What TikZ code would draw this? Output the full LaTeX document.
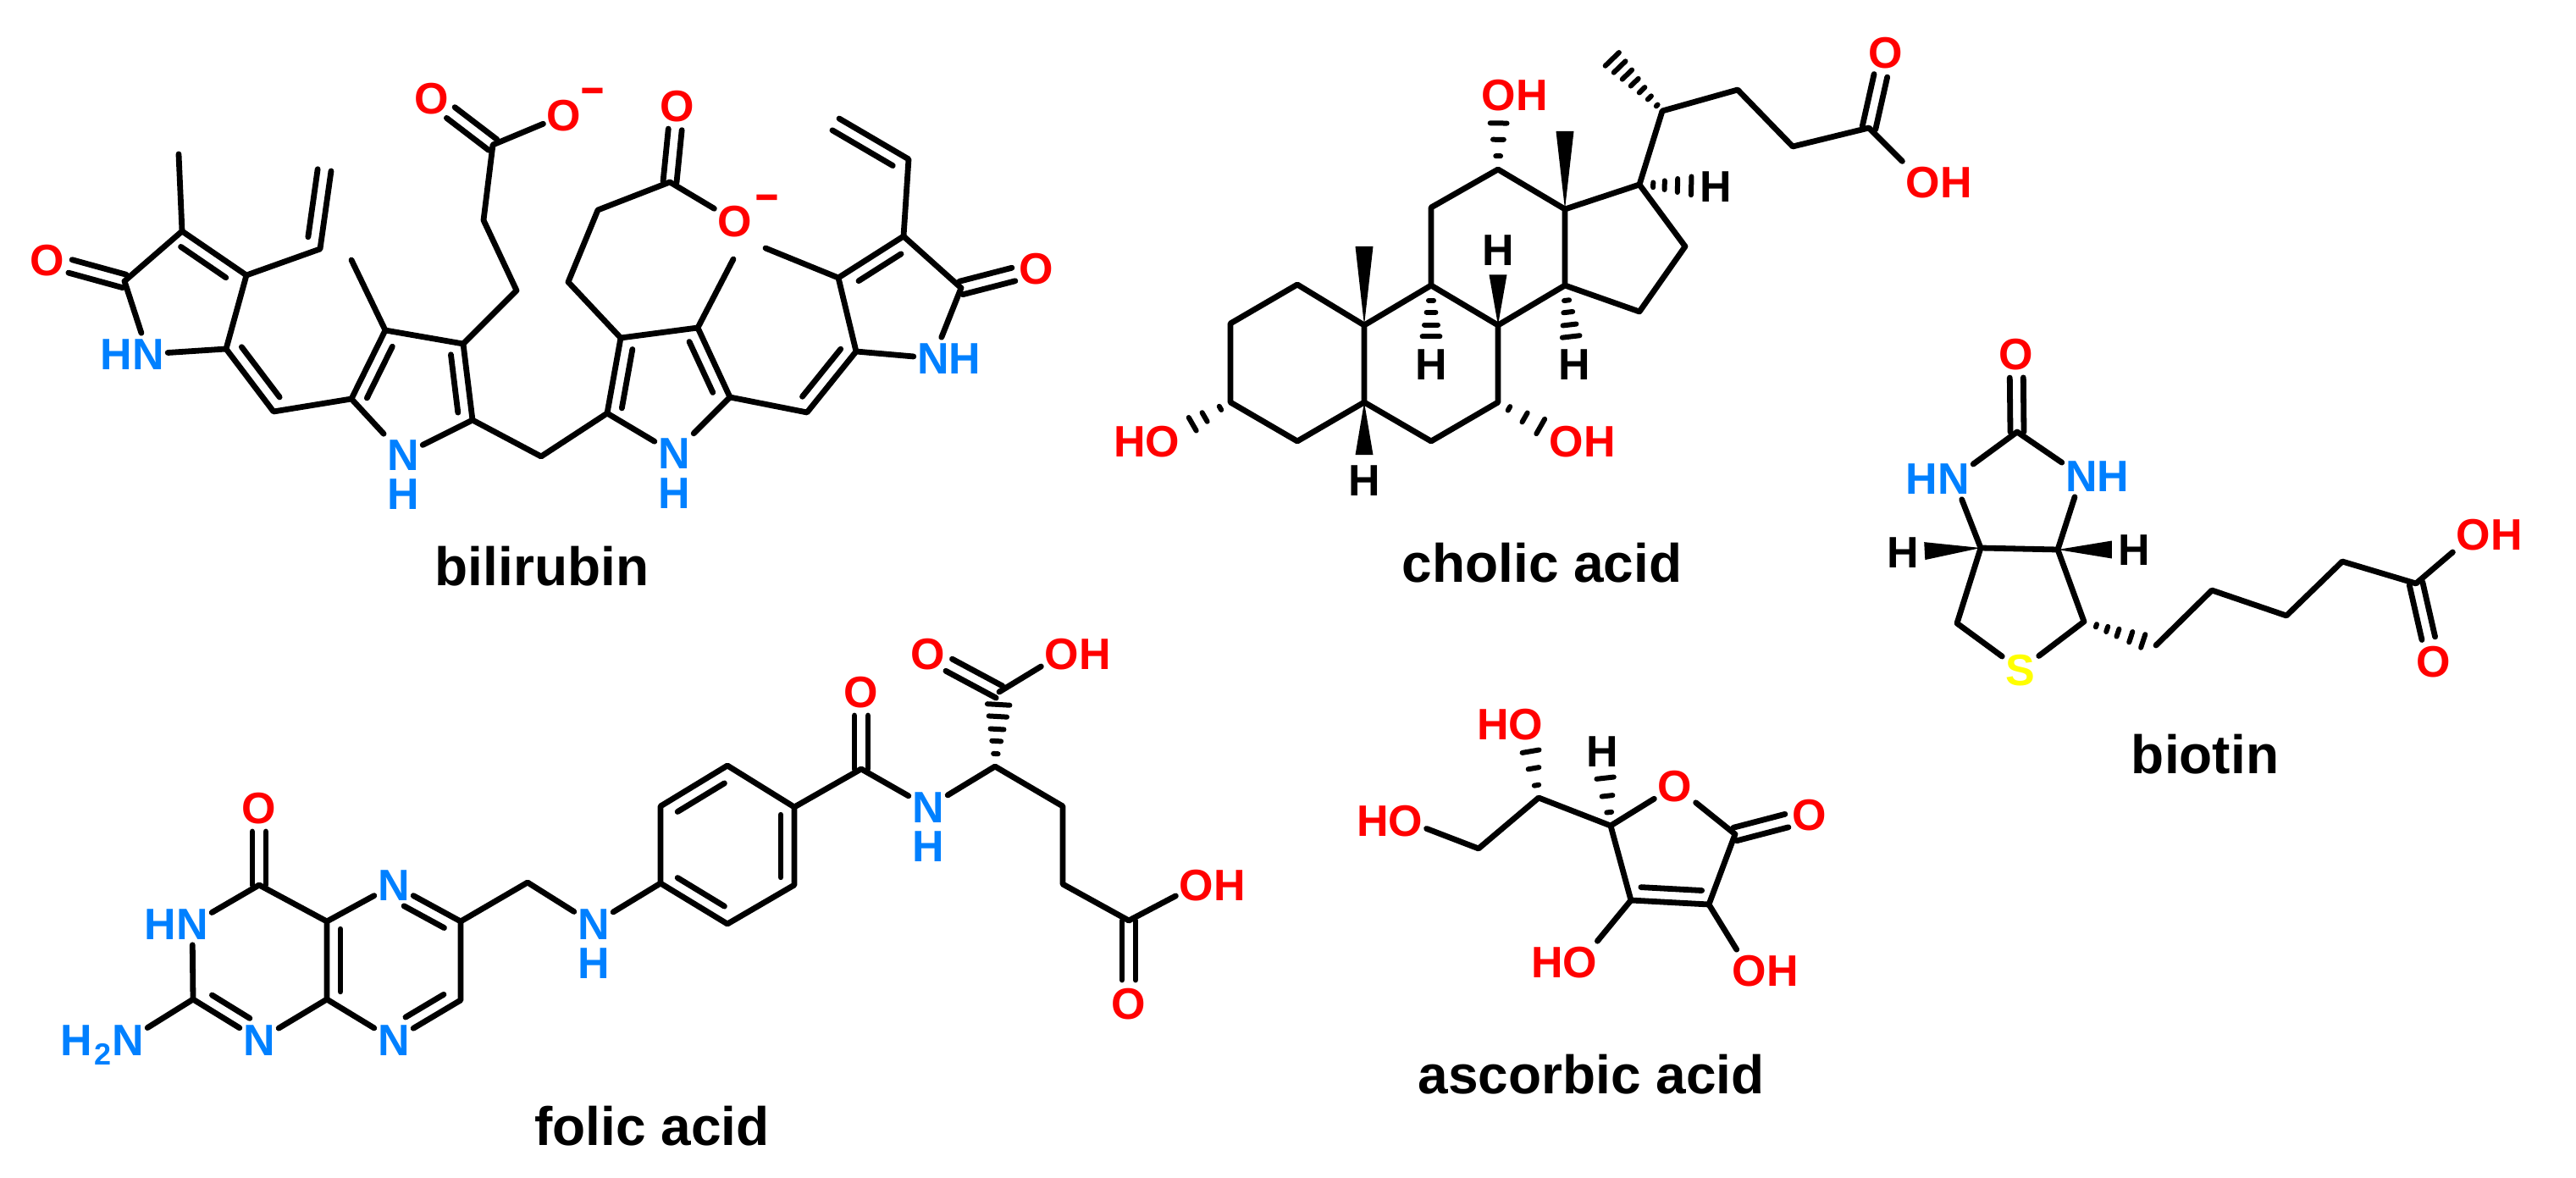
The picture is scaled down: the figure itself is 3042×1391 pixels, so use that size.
\documentclass[tikz,border=0pt]{standalone}
\usepackage{fontspec}
\setmainfont{Liberation Sans}
\usetikzlibrary{calc,positioning}
\definecolor{atomred}{RGB}{255,0,0}
\definecolor{atomblue}{RGB}{0,128,255}
\definecolor{atomyellow}{RGB}{255,255,0}
\tikzset{
  bond/.style={line width=3.4pt,line cap=round,line join=round},
  hashline/.style={line width=3pt,line cap=round},
  atom/.style={shape=rectangle,inner xsep=2pt,inner ysep=3pt,text height=18.4pt,text depth=0pt,font=\fontsize{26}{30}\selectfont\bfseries},
  oxy/.style={atom,text=atomred},
  nit/.style={atom,text=atomblue},
  sul/.style={atom,text=atomyellow},
  hyd/.style={atom,text=black},
  nhyd/.style={nit,inner ysep=0pt},
  charge/.style={anchor=base,inner sep=0pt,text=atomred,font=\fontsize{26}{30}\selectfont},
  molname/.style={anchor=base,inner sep=0pt,font=\fontsize{32}{36}\selectfont\bfseries}
}
\newcommand{\inbond}[4]{\draw[bond] ($(#1)!#3!(#2)!8pt!-90:(#2)$) -- ($(#1)!#4!(#2)!8pt!90:(#1)$);}
\newcommand{\twobond}[2]{\draw[bond,shorten >=14pt] ($(#1)!4pt!90:(#2)$) -- ($(#2)!4pt!-90:(#1)$);
  \draw[bond,shorten >=14pt] ($(#1)!4pt!-90:(#2)$) -- ($(#2)!4pt!90:(#1)$);}
\newcommand{\hashbond}[4][8]{\foreach \tp in {#4} \draw[hashline] ($(#2)!\tp!(#3)!\tp*#1pt!90:(#2)$) -- ($(#2)!\tp!(#3)!\tp*#1pt!-90:(#2)$);}
\newcommand{\wedgebond}[3][1]{\fill (#2) -- ($(#2)!#1!(#3)!5.25pt!90:(#2)$) -- ($(#2)!#1!(#3)!5.25pt!-90:(#2)$) -- cycle;}
\begin{document}
\begin{tikzpicture}[x=0.5pt,y=-0.5pt]
\useasboundingbox (0,0) rectangle (3042,1391);
% bilirubin
\coordinate (bi1) at (147,332); \coordinate (bi2) at (215,273); \coordinate (bi3) at (291,325); \coordinate (bi4) at (267,412); \coordinate (bi5) at (323,486);
\coordinate (biMe1) at (211,182); \coordinate (biV1) at (378,294); \coordinate (biV2) at (391,202);
\coordinate (bi6) at (415,471); \coordinate (bi7) at (455,390); \coordinate (bi8) at (547,406); \coordinate (bi9) at (558,496); \coordinate (biMe2) at (415,307);
\coordinate (bi10) at (610,343); \coordinate (bi11) at (571,260); \coordinate (bi12) at (582,171); \coordinate (bi13) at (639,539);
\coordinate (bi14) at (717,488); \coordinate (bi15) at (733,399); \coordinate (bi16) at (824,387); \coordinate (bi17) at (862,469); \coordinate (biMe3) at (866,306);
\coordinate (bi18) at (671,333); \coordinate (bi19) at (706,248); \coordinate (bi20) at (791,215);
\coordinate (bi21) at (953,487); \coordinate (bi22) at (1011,415); \coordinate (bi23) at (990,328); \coordinate (bi24) at (1067,279); \coordinate (bi25) at (1135,340);
\coordinate (biV3) at (1073,188); \coordinate (biV4) at (991,140); \coordinate (biMe4) at (904,293);
\node[oxy] (biO1) at (56,307) {O};
\node[nit] (biN1) at (175,418) {\llap{H}N};
\node[nit] (biN2) at (476,537) {N};
\node[nhyd] (biH2) at (476,583) {H};
\node[oxy] (biO2) at (510,116) {O};
\node[oxy] (biO3) at (666,136) {O};
\node[charge] (biC1) at (700,130) {\scalebox{1.9}[1.6]{-}};
\node[nit] (biN3) at (796,535) {N};
\node[nhyd] (biH3) at (796,582) {H};
\node[oxy] (biO4) at (800,125) {O};
\node[oxy] (biO5) at (868,261) {O};
\node[charge] (biC2) at (906,256) {\scalebox{1.9}[1.6]{-}};
\node[nit] (biN4) at (1102,423) {N\rlap{H}};
\node[oxy] (biO6) at (1224,317) {O};
\draw[bond] (biN1) -- (bi1) -- (bi2) -- (bi3) -- (bi4) -- (biN1);
\draw[bond] (biMe1) -- (bi2);
\draw[bond] (biV2) -- (biV1) -- (bi3);
\draw[bond] (bi4) -- (bi5) -- (bi6) -- (bi7) -- (bi8) -- (bi9) -- (biN2) -- (bi6);
\draw[bond] (biMe2) -- (bi7);
\draw[bond] (bi8) -- (bi10) -- (bi11) -- (bi12) -- (biO3);
\draw[bond] (bi9) -- (bi13) -- (bi14) -- (bi15) -- (bi16) -- (bi17) -- (biN3) -- (bi14);
\draw[bond] (biMe3) -- (bi16);
\draw[bond] (bi15) -- (bi18) -- (bi19) -- (bi20) -- (biO5);
\draw[bond] (bi17) -- (bi21) -- (bi22) -- (bi23) -- (bi24) -- (bi25) -- (biN4) -- (bi22);
\draw[bond] (biMe4) -- (bi23);
\draw[bond] (biV4) -- (biV3) -- (bi24);
\twobond{bi1}{biO1} \twobond{bi12}{biO2} \twobond{bi20}{biO4} \twobond{bi25}{biO6}
\inbond{bi2}{bi3}{.1}{.8} \inbond{bi5}{bi4}{.1}{.9} \inbond{biV2}{biV1}{0}{.87}
\inbond{bi6}{bi7}{.1}{.85} \inbond{bi8}{bi9}{.12}{.88} \inbond{bi14}{bi15}{.1}{.88} \inbond{bi16}{bi17}{.12}{.85}
\inbond{bi22}{bi21}{.1}{.88} \inbond{bi23}{bi24}{.2}{.85} \inbond{biV4}{biV3}{0}{.87}
\node[molname] (biName) at (640,691) {bilirubin};
% cholic acid
\coordinate (ch1) at (1532,336); \coordinate (ch2) at (1453,382); \coordinate (ch3) at (1453,475); \coordinate (ch4) at (1532,521); \coordinate (ch5) at (1611,475);
\coordinate (ch6) at (1690,521); \coordinate (ch7) at (1769,475); \coordinate (ch8) at (1769,384); \coordinate (ch9) at (1690,337); \coordinate (ch10) at (1611,384);
\coordinate (ch11) at (1690,245); \coordinate (ch12) at (1769,200); \coordinate (ch13) at (1848,247); \coordinate (ch14) at (1848,337);
\coordinate (ch15) at (1936,368); \coordinate (ch16) at (1990,291); \coordinate (ch17) at (1936,218);
\coordinate (ch20) at (1963,131); \coordinate (ch22) at (2052,106); \coordinate (ch23) at (2117,173); \coordinate (ch24) at (2207,151);
\coordinate (chMe1) at (1848,155); \coordinate (chMe2) at (1611,291); \coordinate (chMe3) at (1900,66);
\node[oxy] (chO1) at (1770,112) {O\rlap{H}};
\node[oxy] (chO2) at (1373,521) {\llap{H}O};
\node[oxy] (chO3) at (1850,521) {O\rlap{H}};
\node[oxy] (chO4) at (2227,62) {O};
\node[oxy] (chO5) at (2271,215) {O\rlap{H}};
\node[hyd] (chH5) at (1611,567) {H};
\node[hyd] (chH8) at (1769,295) {H};
\node[hyd] (chH9) at (1690,430) {H};
\node[hyd] (chH14) at (1859,430) {H};
\node[hyd] (chH17) at (2026,220) {H};
\draw[bond] (ch10) -- (ch1) -- (ch2) -- (ch3) -- (ch4) -- (ch5) -- (ch10) -- (ch9) -- (ch8) -- (ch7) -- (ch6) -- (ch5);
\draw[bond] (ch9) -- (ch11) -- (ch12) -- (ch13) -- (ch14) -- (ch8);
\draw[bond] (ch14) -- (ch15) -- (ch16) -- (ch17) -- (ch13);
\draw[bond] (ch17) -- (ch20) -- (ch22) -- (ch23) -- (ch24) -- (chO5);
\twobond{ch24}{chO4}
\wedgebond{ch13}{chMe1} \wedgebond{ch10}{chMe2} \wedgebond[.67]{ch8}{chH8} \wedgebond[.675]{ch5}{chH5}
\hashbond{ch12}{chO1}{.18,.40,.62} \hashbond{ch3}{chO2}{.15,.38,.56} \hashbond{ch7}{chO3}{.16,.39,.62}
\hashbond{ch9}{chH9}{.19,.34,.5,.65} \hashbond{ch14}{chH14}{.19,.34,.5,.65} \hashbond{ch17}{chH17}{.18,.33,.5,.68}
\hashbond[6]{ch20}{chMe3}{.1,.24,.38,.52,.66,.8,.94}
\node[molname] (chName) at (1821,687) {cholic acid};
% biotin
\coordinate (bt1) at (2382,510); \coordinate (bt2) at (2339,647); \coordinate (bt3) at (2430,649); \coordinate (bt4) at (2311,736); \coordinate (bt5) at (2461,734);
\coordinate (bt6) at (2546,762); \coordinate (bt7) at (2612,697); \coordinate (bt8) at (2700,727); \coordinate (bt9) at (2766,663); \coordinate (bt10) at (2853,689);
\node[oxy] (btO1) at (2381,418) {O};
\node[nit] (btN1) at (2307,565) {\llap{H}N};
\node[nit] (btN2) at (2458,562) {N\rlap{H}};
\node[sul] (btS) at (2386,791) {S};
\node[hyd] (btH1) at (2247,652) {H};
\node[hyd] (btH2) at (2520,649) {H};
\node[oxy] (btO2) at (2921,631) {O\rlap{H}};
\node[oxy] (btO3) at (2874,781) {O};
\draw[bond] (bt2) -- (btN1) -- (bt1) -- (btN2) -- (bt3) -- (bt2) -- (bt4) -- (btS) -- (bt5) -- (bt3);
\draw[bond] (bt6) -- (bt7) -- (bt8) -- (bt9) -- (bt10) -- (btO2);
\twobond{bt1}{btO1} \twobond{bt10}{btO3}
\wedgebond[.72]{bt2}{btH1} \wedgebond[.71]{bt3}{btH2}
\hashbond[5]{bt5}{bt6}{.17,.32,.47,.65,.82}
\node[molname] (btName) at (2604,913) {biotin};
% folic acid
\coordinate (fo1) at (306,1045); \coordinate (fo2) at (228,1180); \coordinate (fo4) at (386,1180); \coordinate (fo8) at (386,1088); \coordinate (fo6) at (544,1088); \coordinate (fo7) at (544,1181);
\coordinate (fo9) at (623,1042);
\coordinate (fob1) at (780,1043); \coordinate (fob2) at (859,1091); \coordinate (fob3) at (938,1045); \coordinate (fob4) at (938,953); \coordinate (fob5) at (859,904); \coordinate (fob6) at (780,952);
\coordinate (foC1) at (1017,908); \coordinate (foC2) at (1175,905); \coordinate (foC3) at (1180,817); \coordinate (foC4) at (1255,952); \coordinate (foC5) at (1255,1044); \coordinate (foC6) at (1333,1087);
\node[oxy] (foO1) at (306,954) {O};
\node[nit] (foN1) at (227,1091) {\llap{H}N};
\node[nit] (foN2) at (151,1228) {\llap{H\kern1pt\raisebox{-.22em}{\fontsize{18}{20}\selectfont 2}\kern.5pt}N};
\node[nit] (foN3) at (306,1228) {N};
\node[nit] (foN5) at (465,1045) {N};
\node[nit] (foN8) at (465,1228) {N};
\node[nit] (foN10) at (701,1091) {N};
\node[nhyd] (foH10) at (701,1137) {H};
\node[oxy] (foO2) at (1017,817) {O};
\node[nit] (foN11) at (1096,953) {N};
\node[nhyd] (foH11) at (1096,999) {H};
\node[oxy] (foO3) at (1096,772) {O};
\node[oxy] (foO4) at (1254,772) {O\rlap{H}};
\node[oxy] (foO5) at (1413,1045) {O\rlap{H}};
\node[oxy] (foO6) at (1333,1185) {O};
\draw[bond] (foN1) -- (fo1) -- (fo8) -- (fo4) -- (foN3) -- (fo2) -- (foN1);
\draw[bond] (foN2) -- (fo2);
\draw[bond] (fo8) -- (foN5) -- (fo6) -- (fo7) -- (foN8) -- (fo4);
\draw[bond] (fo6) -- (fo9) -- (foN10) -- (fob1) -- (fob6) -- (fob5) -- (fob4) -- (fob3) -- (fob2) -- (fob1);
\draw[bond] (fob4) -- (foC1) -- (foN11) -- (foC2) -- (foC4) -- (foC5) -- (foC6) -- (foO5);
\draw[bond] (foC3) -- (foO4);
\twobond{fo1}{foO1} \twobond{foC1}{foO2} \twobond{foC3}{foO3} \twobond{foC6}{foO6}
\inbond{foN3}{fo2}{.25}{.82} \inbond{fo4}{fo8}{.1}{.9} \inbond{foN5}{fo6}{.25}{.85} \inbond{fo7}{foN8}{.15}{.72}
\inbond{fob6}{fob5}{.15}{.85} \inbond{fob4}{fob3}{.1}{.9} \inbond{fob2}{fob1}{.15}{.85}
\hashbond{foC2}{foC3}{.17,.34,.5,.67,.83}
\node[molname] (foName) at (770,1352) {folic acid};
% ascorbic acid
\coordinate (as1) at (2049,985); \coordinate (as2) at (2018,1068); \coordinate (as3) at (1926,1063); \coordinate (as4) at (1902,975); \coordinate (as5) at (1817,942); \coordinate (as6) at (1746,1002);
\node[oxy] (asO1) at (1802,855) {\llap{H}O};
\node[oxy] (asO2) at (1660,969) {\llap{H}O};
\node[hyd] (asH4) at (1892,887) {H};
\node[oxy] (asO3) at (1978,928) {O};
\node[oxy] (asO4) at (2137,962) {O};
\node[oxy] (asO5) at (1866,1136) {\llap{H}O};
\node[oxy] (asO6) at (2066,1146) {O\rlap{H}};
\draw[bond] (asO2) -- (as6) -- (as5) -- (as4) -- (asO3) -- (as1) -- (as2) -- (as3) -- (as4);
\draw[bond] (as3) -- (asO5);
\draw[bond] (as2) -- (asO6);
\twobond{as1}{asO4}
\inbond{as2}{as3}{.1}{.88}
\hashbond{as5}{asO1}{.17,.40,.63} \hashbond{as4}{asH4}{.18,.40,.64}
\node[molname] (asName) at (1879,1291) {ascorbic acid};
\end{tikzpicture}
\end{document}
